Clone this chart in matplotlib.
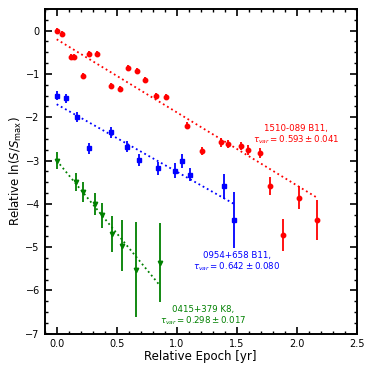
import matplotlib.pyplot as plt
from matplotlib.ticker import MultipleLocator

# 1510-089 B11 (red circles)
red_t = [0.0, 0.047, 0.117, 0.144, 0.217, 0.272, 0.333, 0.45, 0.525, 0.597, 0.672, 0.738,
         0.83, 0.91, 1.083, 1.21, 1.367, 1.428, 1.533, 1.594, 1.692, 1.775, 1.886, 2.022, 2.17]
red_y = [0.0, -0.07, -0.61, -0.61, -1.04, -0.53, -0.55, -1.27, -1.34, -0.86, -0.93, -1.15,
         -1.52, -1.54, -2.2, -2.78, -2.58, -2.62, -2.66, -2.75, -2.83, -3.58, -4.72, -3.86, -4.37]
red_err = [0.06, 0.06, 0.06, 0.06, 0.06, 0.07, 0.07, 0.07, 0.07, 0.07, 0.07, 0.07,
           0.07, 0.07, 0.08, 0.1, 0.1, 0.1, 0.1, 0.12, 0.12, 0.21, 0.37, 0.27, 0.47]

# 0954+658 B11 (blue squares)
blue_t = [0.0, 0.078, 0.172, 0.272, 0.45, 0.586, 0.688, 0.847, 0.988, 1.047, 1.113, 1.394, 1.475]
blue_y = [-1.5, -1.56, -1.99, -2.72, -2.35, -2.68, -2.98, -3.18, -3.23, -3.01, -3.33, -3.59, -4.37]
blue_err = [0.11, 0.1, 0.12, 0.12, 0.12, 0.13, 0.14, 0.15, 0.17, 0.16, 0.15, 0.29, 0.65]

# 0415+379 K8 (green triangles)
green_t = [0.0, 0.161, 0.222, 0.317, 0.375, 0.458, 0.542, 0.658, 0.863]
green_y = [-3.0, -3.49, -3.73, -4.0, -4.26, -4.7, -4.97, -5.52, -5.36]
green_err = [0.19, 0.21, 0.23, 0.25, 0.29, 0.42, 0.59, 1.09, 0.91]

# fit parameters: intercept, tau_var, error, source name
fits = {
    'red': (-0.2, 0.593, 0.041, '1510-089 B11'),
    'blue': (-1.7, 0.642, 0.080, '0954+658 B11'),
    'green': (-3.0, 0.298, 0.017, '0415+379 K8'),
}
label_pos = {'red': (1.995, -2.41), 'blue': (1.50, -5.34), 'green': (1.22, -6.59)}

fig = plt.figure(figsize=(3.74, 3.74), dpi=100)
ax = fig.add_axes([0.1195, 0.1075, 0.8345, 0.8685])

series = [('red', red_t, red_y, red_err, 'o'),
          ('blue', blue_t, blue_y, blue_err, 's'),
          ('green', green_t, green_y, green_err, 'v')]

for col, t, y, e, m in series:
    ax.errorbar(t, y, yerr=e, fmt=m, color=col, ms=3.2, elinewidth=1.3, capsize=0)
    a, tau, dtau, name = fits[col]
    tt = [0.0, max(t)]
    ax.plot(tt, [a - v / tau for v in tt], ':', color=col, lw=1.3)
    lx, ly = label_pos[col]
    ax.text(lx, ly, name + ',\n' + r'$\tau_{var} = %.3f \pm %.3f$' % (tau, dtau),
            color=col, fontsize=6.2, ha='center', va='center', linespacing=1.1)

ax.set_xlim(-0.1, 2.5)
ax.set_ylim(-7, 0.5)
ax.xaxis.set_major_locator(MultipleLocator(0.5))
ax.xaxis.set_minor_locator(MultipleLocator(0.1))
ax.yaxis.set_major_locator(MultipleLocator(1))
ax.yaxis.set_minor_locator(MultipleLocator(0.25))
ax.tick_params(which='both', direction='in', top=True, right=True, labelsize=7)
ax.tick_params(which='major', length=5, width=1.2)
ax.tick_params(which='minor', length=2.5, width=1.0)
for s in ax.spines.values():
    s.set_linewidth(1.4)

ax.set_xlabel('Relative Epoch [yr]', fontsize=8.5, labelpad=1)
ax.set_ylabel(r'Relative ln($S/S_{\rm max}$)', fontsize=8.5, labelpad=1)

fig.savefig('out.png')
